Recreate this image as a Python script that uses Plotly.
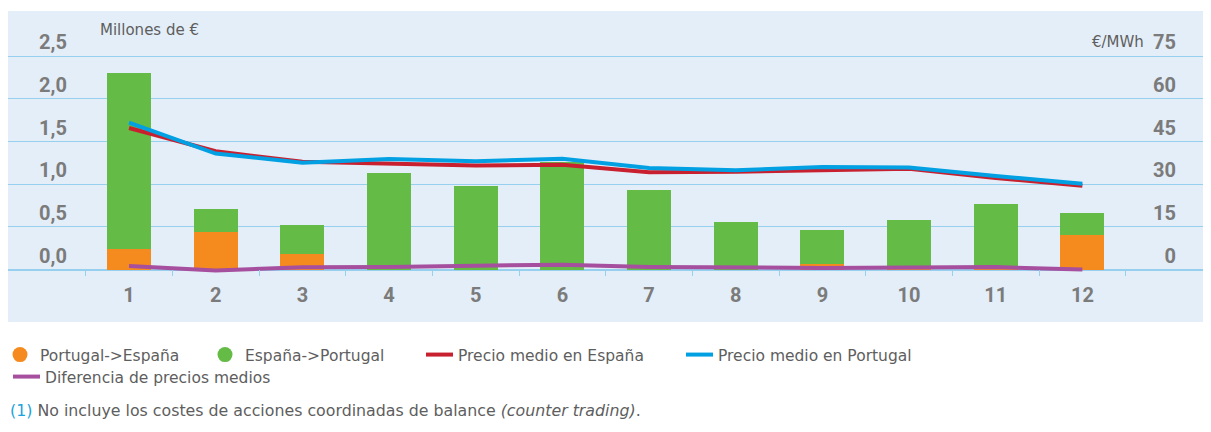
import plotly.graph_objects as go

months = list(range(1, 13))
month_labels = [str(m) for m in months]
pt_es = [0.24, 0.44, 0.18, 0.0, 0.0, 0.0, 0.0, 0.0, 0.06, 0.03, 0.01, 0.40]
es_pt = [2.06, 0.27, 0.34, 1.13, 0.98, 1.26, 0.93, 0.56, 0.40, 0.55, 0.755, 0.26]
precio_es = [49.8, 41.6, 37.9, 37.3, 36.6, 36.9, 34.2, 34.4, 34.9, 35.5, 32.2, 29.5]
precio_pt = [51.7, 40.8, 37.6, 38.9, 38.1, 39.0, 35.7, 34.9, 36.1, 35.9, 32.9, 30.2]
diferencia = [1.3, -0.3, 0.8, 0.9, 1.4, 1.7, 0.9, 0.6, 0.6, 0.7, 0.9, 0.0]
y1_ticks = [0, 0.5, 1.0, 1.5, 2.0, 2.5]
y2_ticks = [0, 15, 30, 45, 60, 75]

ORANGE = "#F58B1F"
GREEN = "#64BB46"
RED = "#C8202F"
BLUE = "#00A0E3"
PURPLE = "#A64F9E"
BG = "#E4EEF8"
GRID = "#97CFEE"
TICKC = "#7B7B7B"
TXT = "#5E5E5E"
FONT = "Roboto"
TFONT = "DejaVu Sans"

# page has an 8px body margin: figure coordinates = page coordinates - 8
OFF = 8
W, H = 1203, 416
L, R, T, B = 0, 0, 3, 102
pw, ph = W - L - R, H - T - B


def px(x_page):
    return (x_page - OFF - L) / pw


def py(y_page):
    return (H - B - (y_page - OFF)) / ph


fig = go.Figure()
fig.add_bar(x=months, y=pt_es, marker_color=ORANGE, width=0.51, showlegend=False,
            marker_line_width=0)
fig.add_bar(x=months, y=es_pt, marker_color=GREEN, width=0.51, showlegend=False,
            marker_line_width=0)
fig.add_scatter(x=months, y=precio_es, yaxis="y2", mode="lines",
                line=dict(color=RED, width=4), name="Precio medio en España", legend="legend3")
fig.add_scatter(x=months, y=precio_pt, yaxis="y2", mode="lines",
                line=dict(color=BLUE, width=4), name="Precio medio en Portugal", legend="legend4")
fig.add_scatter(x=months, y=diferencia, yaxis="y2", mode="lines",
                line=dict(color=PURPLE, width=4), name="Diferencia de precios medios", legend="legend5")
# legend entries for bars (round symbols)
fig.add_scatter(x=[None], y=[None], mode="markers", marker=dict(color=ORANGE, size=15),
                name="Portugal->España", legend="legend")
fig.add_scatter(x=[None], y=[None], mode="markers", marker=dict(color=GREEN, size=15),
                name="España->Portugal", legend="legend2")

y_lo, y_hi = -0.614, 3.031
leg_font = dict(family=TFONT, size=15.5, color=TXT)


def leg(x_text_page, y_page):
    # x given as page position where the entry text should start
    return dict(x=(x_text_page - 32 - OFF) / W, y=1 - (y_page - OFF) / H,
                xref="container", yref="container",
                xanchor="left", yanchor="middle", orientation="h", font=leg_font,
                bgcolor="rgba(0,0,0,0)", borderwidth=0, itemwidth=30, tracegroupgap=0,
                indentation=-8)


tick_font = dict(family=FONT, size=20, color=TICKC, weight="bold")

fig.update_layout(
    width=W, height=H,
    margin=dict(l=L, r=R, t=T, b=B, autoexpand=False),
    paper_bgcolor="white",
    plot_bgcolor=BG,
    separators=",.",
    barmode="relative",
    bargap=0,
    font=dict(family=FONT, color=TXT),
    xaxis=dict(
        range=[-0.3965, 13.484],
        tickmode="array", tickvals=months, ticktext=month_labels,
        ticks="", showgrid=False, zeroline=False,
        anchor="free", position=py(269.3),
        showline=False,
        tickfont=tick_font,
        ticklabelstandoff=12,
        minor=dict(tickmode="array", tickvals=[m - 0.5 for m in months] + [12.5],
                   ticks="outside", ticklen=6, tickwidth=1, tickcolor=GRID, showgrid=False),
    ),
    yaxis=dict(
        range=[y_lo, y_hi],
        tickmode="array", tickvals=y1_ticks, tickformat=".1f",
        showgrid=True, gridcolor=GRID, gridwidth=1,
        zeroline=True, zerolinecolor=GRID, zerolinewidth=2,
        ticks="", ticklabelposition="inside",
        ticklabelstandoff=28, ticklabelshift=-14,
        tickfont=tick_font,
    ),
    yaxis2=dict(
        range=[y_lo * 30, y_hi * 30],
        overlaying="y", side="right",
        tickmode="array", tickvals=y2_ticks, tickformat="d",
        showgrid=False, zeroline=False,
        ticks="", ticklabelposition="inside",
        ticklabelstandoff=32, ticklabelshift=-14,
        tickfont=tick_font,
    ),
    legend=leg(40, 355),
    legend2=leg(245, 355),
    legend3=leg(458, 355),
    legend4=leg(718, 355),
    legend5=leg(45, 377),
    annotations=[
        dict(text="Millones de €", x=px(98), y=py(30), xref="paper", yref="paper",
             xanchor="left", yanchor="middle", showarrow=False,
             font=dict(family=TFONT, size=15, color=TXT)),
        dict(text="€/MWh", x=px(1146), y=py(42), xref="paper", yref="paper",
             xanchor="right", yanchor="middle", showarrow=False,
             font=dict(family=TFONT, size=15, color=TXT)),
        dict(text="<span style='color:#1AA3DC'>(1)</span> No incluye los costes de acciones "
                  "coordinadas de balance <i>(counter trading)</i>.",
             x=px(8), y=py(410), xref="paper", yref="paper",
             xanchor="left", yanchor="middle", showarrow=False,
             font=dict(family=TFONT, size=15.8, color=TXT)),
    ],
)

fig.write_html("out.html")
